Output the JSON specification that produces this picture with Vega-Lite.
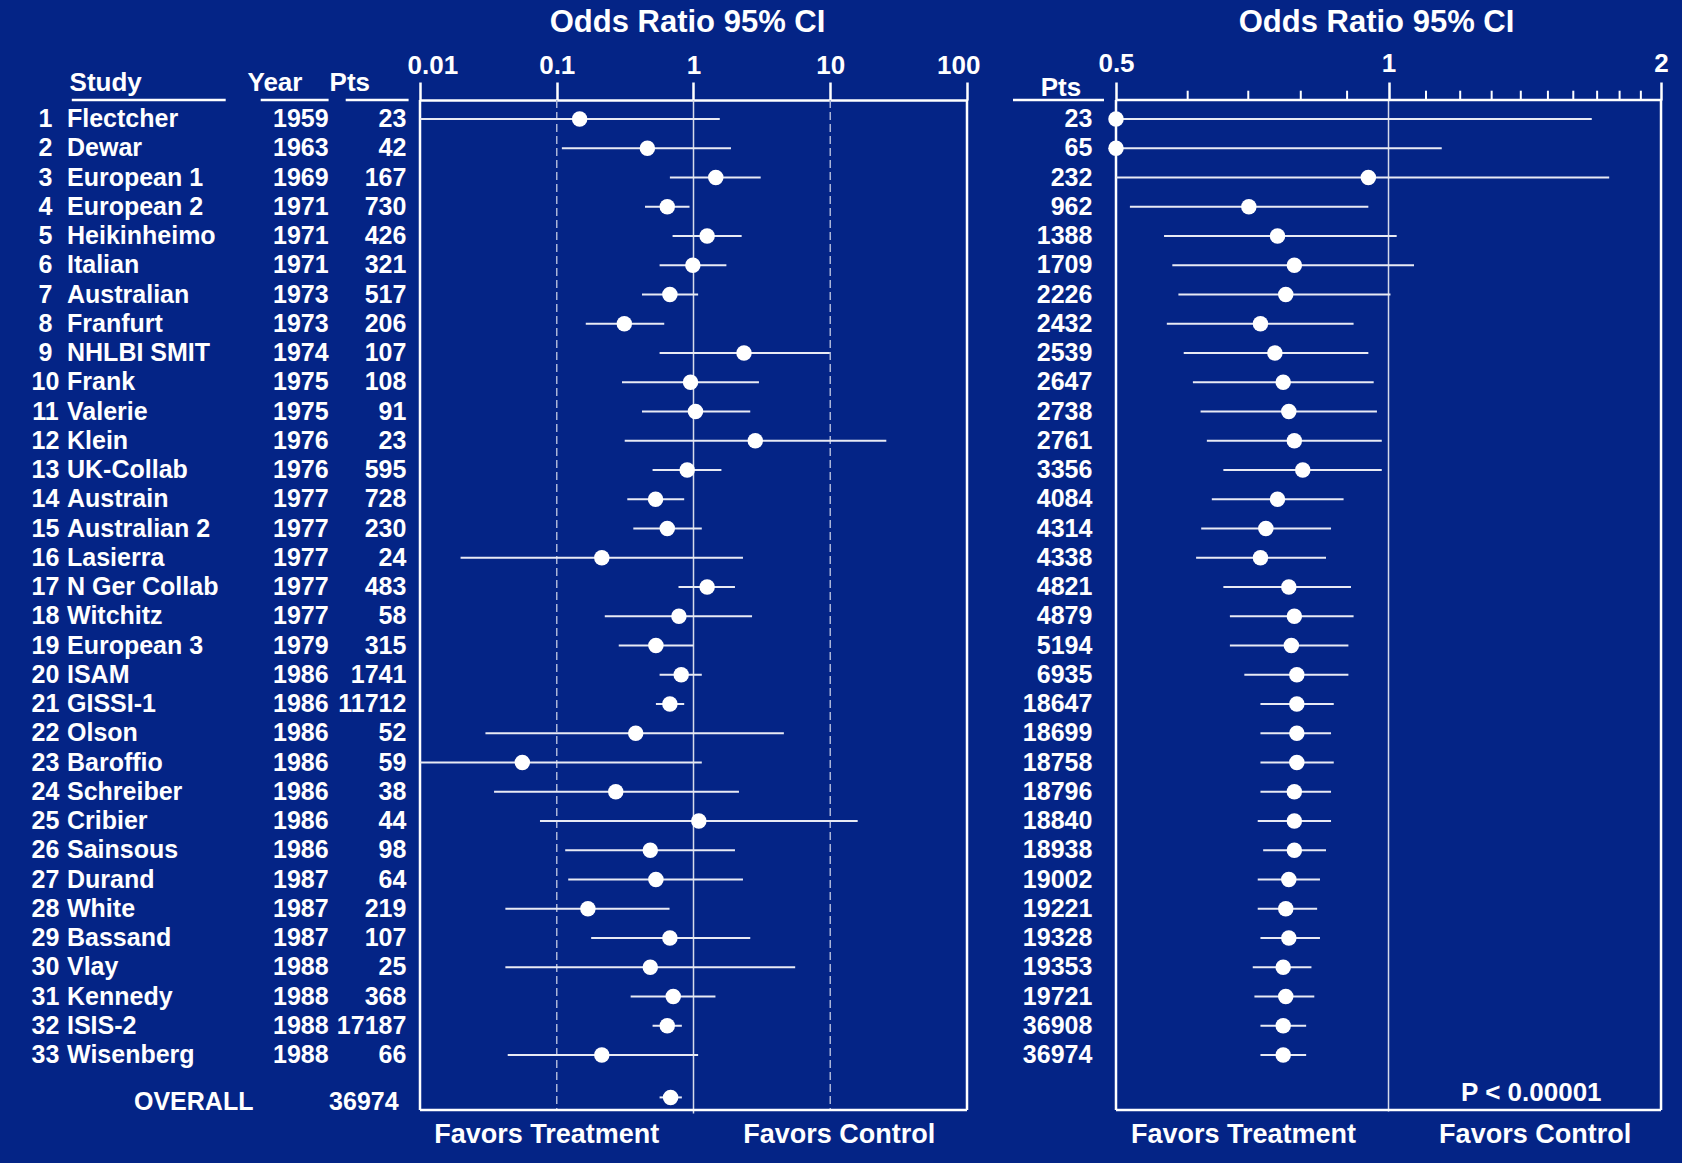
{
"$schema": "https://vega.github.io/schema/vega-lite/v6.json",
"background": "#042486",
"padding": 0,
"spacing": 0,
"bounds": "flush",
"config": {
  "view": {"stroke": null},
  "text": {"color": "white", "font": "Liberation Sans", "fontWeight": "bold", "fontSize": 25},
  "rule": {"color": "white"},
  "point": {"filled": true, "color": "white", "opacity": 1, "size": 240, "shape": "circle"}
},
"datasets": {
  "studies": [
    {"n":1,"study":"Flectcher","year":"1959","pts":"23","or":0.147,"lo":0.01,"hi":1.556,"cumPts":"23","cumOr":0.5,"cumLo":0.5,"cumHi":1.677},
    {"n":2,"study":"Dewar","year":"1963","pts":"42","or":0.46,"lo":0.109,"hi":1.88,"cumPts":"65","cumOr":0.5,"cumLo":0.5,"cumHi":1.145},
    {"n":3,"study":"European 1","year":"1969","pts":"167","or":1.455,"lo":0.672,"hi":3.1,"cumPts":"232","cumOr":0.95,"cumLo":0.5,"cumHi":1.753},
    {"n":4,"study":"European 2","year":"1971","pts":"730","or":0.643,"lo":0.442,"hi":0.935,"cumPts":"962","cumOr":0.701,"cumLo":0.518,"cumHi":0.95},
    {"n":5,"study":"Heikinheimo","year":"1971","pts":"426","or":1.258,"lo":0.703,"hi":2.25,"cumPts":"1388","cumOr":0.754,"cumLo":0.565,"cumHi":1.021},
    {"n":6,"study":"Italian","year":"1971","pts":"321","or":0.989,"lo":0.565,"hi":1.74,"cumPts":"1709","cumOr":0.787,"cumLo":0.577,"cumHi":1.067},
    {"n":7,"study":"Australian","year":"1973","pts":"517","or":0.672,"lo":0.42,"hi":1.081,"cumPts":"2226","cumOr":0.77,"cumLo":0.586,"cumHi":1.005},
    {"n":8,"study":"Franfurt","year":"1973","pts":"206","or":0.312,"lo":0.163,"hi":0.611,"cumPts":"2432","cumOr":0.722,"cumLo":0.569,"cumHi":0.915},
    {"n":9,"study":"NHLBI SMIT","year":"1974","pts":"107","or":2.34,"lo":0.565,"hi":9.92,"cumPts":"2539","cumOr":0.749,"cumLo":0.594,"cumHi":0.95},
    {"n":10,"study":"Frank","year":"1975","pts":"108","or":0.951,"lo":0.3,"hi":3.01,"cumPts":"2647","cumOr":0.765,"cumLo":0.608,"cumHi":0.963},
    {"n":11,"study":"Valerie","year":"1975","pts":"91","or":1.034,"lo":0.42,"hi":2.6,"cumPts":"2738","cumOr":0.776,"cumLo":0.62,"cumHi":0.971},
    {"n":12,"study":"Klein","year":"1976","pts":"23","or":2.83,"lo":0.314,"hi":25.7,"cumPts":"2761","cumOr":0.787,"cumLo":0.63,"cumHi":0.983},
    {"n":13,"study":"UK-Collab","year":"1976","pts":"595","or":0.899,"lo":0.502,"hi":1.6,"cumPts":"3356","cumOr":0.804,"cumLo":0.657,"cumHi":0.983},
    {"n":14,"study":"Austrain","year":"1977","pts":"728","or":0.528,"lo":0.328,"hi":0.855,"cumPts":"4084","cumOr":0.754,"cumLo":0.638,"cumHi":0.892},
    {"n":15,"study":"Australian 2","year":"1977","pts":"230","or":0.643,"lo":0.363,"hi":1.15,"cumPts":"4314","cumOr":0.732,"cumLo":0.621,"cumHi":0.864},
    {"n":16,"study":"Lasierra","year":"1977","pts":"24","or":0.2135,"lo":0.0198,"hi":2.3,"cumPts":"4338","cumOr":0.722,"cumLo":0.613,"cumHi":0.853},
    {"n":17,"study":"N Ger Collab","year":"1977","pts":"483","or":1.258,"lo":0.777,"hi":2.01,"cumPts":"4821","cumOr":0.776,"cumLo":0.657,"cumHi":0.909},
    {"n":18,"study":"Witchitz","year":"1977","pts":"58","or":0.782,"lo":0.2245,"hi":2.68,"cumPts":"4879","cumOr":0.787,"cumLo":0.668,"cumHi":0.915},
    {"n":19,"study":"European 3","year":"1979","pts":"315","or":0.531,"lo":0.284,"hi":1.0,"cumPts":"5194","cumOr":0.781,"cumLo":0.668,"cumHi":0.903},
    {"n":20,"study":"ISAM","year":"1986","pts":"1741","or":0.813,"lo":0.565,"hi":1.15,"cumPts":"6935","cumOr":0.792,"cumLo":0.693,"cumHi":0.903},
    {"n":21,"study":"GISSI-1","year":"1986","pts":"11712","or":0.672,"lo":0.531,"hi":0.855,"cumPts":"18647","cumOr":0.792,"cumLo":0.722,"cumHi":0.87},
    {"n":22,"study":"Olson","year":"1986","pts":"52","or":0.378,"lo":0.0301,"hi":4.58,"cumPts":"18699","cumOr":0.792,"cumLo":0.722,"cumHi":0.864},
    {"n":23,"study":"Baroffio","year":"1986","pts":"59","or":0.056,"lo":0.01,"hi":1.15,"cumPts":"18758","cumOr":0.792,"cumLo":0.722,"cumHi":0.87},
    {"n":24,"study":"Schreiber","year":"1986","pts":"38","or":0.27,"lo":0.0348,"hi":2.15,"cumPts":"18796","cumOr":0.787,"cumLo":0.722,"cumHi":0.864},
    {"n":25,"study":"Cribier","year":"1986","pts":"44","or":1.094,"lo":0.0754,"hi":15.87,"cumPts":"18840","cumOr":0.787,"cumLo":0.717,"cumHi":0.864},
    {"n":26,"study":"Sainsous","year":"1986","pts":"98","or":0.483,"lo":0.1153,"hi":2.01,"cumPts":"18938","cumOr":0.787,"cumLo":0.727,"cumHi":0.853},
    {"n":27,"study":"Durand","year":"1987","pts":"64","or":0.531,"lo":0.1213,"hi":2.3,"cumPts":"19002","cumOr":0.776,"cumLo":0.717,"cumHi":0.84},
    {"n":28,"study":"White","year":"1987","pts":"219","or":0.169,"lo":0.0421,"hi":0.668,"cumPts":"19221","cumOr":0.77,"cumLo":0.717,"cumHi":0.834},
    {"n":29,"study":"Bassand","year":"1987","pts":"107","or":0.672,"lo":0.1785,"hi":2.6,"cumPts":"19328","cumOr":0.776,"cumLo":0.722,"cumHi":0.84},
    {"n":30,"study":"Vlay","year":"1988","pts":"25","or":0.483,"lo":0.0421,"hi":5.54,"cumPts":"19353","cumOr":0.765,"cumLo":0.708,"cumHi":0.822},
    {"n":31,"study":"Kennedy","year":"1988","pts":"368","or":0.711,"lo":0.347,"hi":1.447,"cumPts":"19721","cumOr":0.77,"cumLo":0.711,"cumHi":0.828},
    {"n":32,"study":"ISIS-2","year":"1988","pts":"17187","or":0.643,"lo":0.502,"hi":0.822,"cumPts":"36908","cumOr":0.765,"cumLo":0.722,"cumHi":0.811},
    {"n":33,"study":"Wisenberg","year":"1988","pts":"66","or":0.2135,"lo":0.0438,"hi":1.081,"cumPts":"36974","cumOr":0.765,"cumLo":0.722,"cumHi":0.811}
  ],
  "overall": [{"label": "OVERALL", "pts": "36974", "or": 0.68, "lo": 0.565, "hi": 0.822}],
  "one": [{"k": 1}],
  "refs": [{"v": 0.1}, {"v": 10}],
  "minor": [{"v":0.6},{"v":0.7},{"v":0.8},{"v":0.9},{"v":1.1},{"v":1.2},{"v":1.3},{"v":1.4},{"v":1.5},{"v":1.6},{"v":1.7},{"v":1.8},{"v":1.9}]
},
"hconcat": [
  {
    "width": 420, "height": 1163,
    "layer": [
      {"data": {"name": "studies"}, "mark": {"type": "text", "align": "center", "baseline": "middle"},
       "encoding": {
         "x": {"datum": 45.5, "type": "quantitative", "scale": {"domain": [0, 420], "nice": false, "zero": false}, "axis": null},
         "y": {"field": "n", "type": "quantitative", "scale": {"domain": [-3.0684, 36.6923], "reverse": true, "nice": false, "zero": false}, "axis": null},
         "text": {"field": "n", "type": "nominal"}}},
      {"data": {"name": "studies"}, "mark": {"type": "text", "align": "left", "baseline": "middle"},
       "encoding": {"x": {"datum": 67, "type": "quantitative"}, "y": {"field": "n", "type": "quantitative"}, "text": {"field": "study", "type": "nominal"}}},
      {"data": {"name": "studies"}, "mark": {"type": "text", "align": "right", "baseline": "middle"},
       "encoding": {"x": {"datum": 328.6, "type": "quantitative"}, "y": {"field": "n", "type": "quantitative"}, "text": {"field": "year", "type": "nominal"}}},
      {"data": {"name": "studies"}, "mark": {"type": "text", "align": "right", "baseline": "middle"},
       "encoding": {"x": {"datum": 406.4, "type": "quantitative"}, "y": {"field": "n", "type": "quantitative"}, "text": {"field": "pts", "type": "nominal"}}},
      {"data": {"name": "one"}, "mark": {"type": "text", "align": "left", "baseline": "alphabetic", "fontSize": 26},
       "encoding": {"x": {"datum": 69.6, "type": "quantitative"}, "y": {"datum": 0.032, "type": "quantitative"}, "text": {"value": "Study"}}},
      {"data": {"name": "one"}, "mark": {"type": "text", "align": "left", "baseline": "alphabetic", "fontSize": 26},
       "encoding": {"x": {"datum": 247.5, "type": "quantitative"}, "y": {"datum": 0.032, "type": "quantitative"}, "text": {"value": "Year"}}},
      {"data": {"name": "one"}, "mark": {"type": "text", "align": "left", "baseline": "alphabetic", "fontSize": 26},
       "encoding": {"x": {"datum": 329.6, "type": "quantitative"}, "y": {"datum": 0.032, "type": "quantitative"}, "text": {"value": "Pts"}}},
      {"data": {"name": "one"}, "mark": {"type": "rule", "strokeWidth": 2.5},
       "encoding": {"x": {"datum": 71.8, "type": "quantitative"}, "x2": {"datum": 225.7}, "y": {"datum": 0.3504, "type": "quantitative"}}},
      {"data": {"name": "one"}, "mark": {"type": "rule", "strokeWidth": 2.5},
       "encoding": {"x": {"datum": 260.7, "type": "quantitative"}, "x2": {"datum": 328.6}, "y": {"datum": 0.3504, "type": "quantitative"}}},
      {"data": {"name": "one"}, "mark": {"type": "rule", "strokeWidth": 2.5},
       "encoding": {"x": {"datum": 345.7, "type": "quantitative"}, "x2": {"datum": 408.6}, "y": {"datum": 0.3504, "type": "quantitative"}}},
      {"data": {"name": "overall"}, "mark": {"type": "text", "align": "left", "baseline": "middle", "fontSize": 25},
       "encoding": {"x": {"datum": 134, "type": "quantitative"}, "y": {"datum": 34.6, "type": "quantitative"}, "text": {"field": "label", "type": "nominal"}}},
      {"data": {"name": "overall"}, "mark": {"type": "text", "align": "right", "baseline": "middle", "fontSize": 25},
       "encoding": {"x": {"datum": 398.6, "type": "quantitative"}, "y": {"datum": 34.6, "type": "quantitative"}, "text": {"field": "pts", "type": "nominal"}}}
    ]
  },
  {
    "width": 547, "height": 1163,
    "layer": [
      {"data": {"name": "refs"}, "mark": {"type": "rule", "strokeDash": [8, 4], "strokeWidth": 1.5, "color": "#aab4d8"},
       "encoding": {
         "x": {"field": "v", "type": "quantitative", "scale": {"type": "log", "domain": [0.01, 100], "nice": false},
               "axis": {"orient": "top", "offset": -100, "values": [0.01, 0.1, 1, 10, 100], "format": "~g", "grid": false,
                        "domain": true, "domainColor": "white", "domainWidth": 2.5,
                        "ticks": true, "tickColor": "white", "tickWidth": 2.5, "tickSize": 18,
                        "labelColor": "white", "labelFont": "Liberation Sans", "labelFontWeight": "bold", "labelFontSize": 26,
                        "labelPadding": 3.3, "labelFlush": true, "labelFlushOffset": 13, "labelOverlap": false,
                        "title": "Odds Ratio 95% CI", "titleColor": "white", "titleFont": "Liberation Sans", "titleFontWeight": "bold",
                        "titleFontSize": 31, "titlePadding": 14, "titleX": 267}},
         "y": {"datum": 0.3504, "type": "quantitative", "scale": {"domain": [-3.0684, 36.6923], "reverse": true, "nice": false, "zero": false}, "axis": null},
         "y2": {"datum": 34.88}}},
      {"data": {"name": "one"}, "mark": {"type": "rule", "strokeWidth": 1.5, "color": "#d5daea"},
       "encoding": {"x": {"datum": 1, "type": "quantitative"}, "y": {"datum": 0.3504, "type": "quantitative"}, "y2": {"datum": 35.0}}},
      {"data": {"name": "one"}, "mark": {"type": "rule", "strokeWidth": 2.5},
       "encoding": {"x": {"datum": 0.01, "type": "quantitative"}, "y": {"datum": 0.3504, "type": "quantitative"}, "y2": {"datum": 34.88}}},
      {"data": {"name": "one"}, "mark": {"type": "rule", "strokeWidth": 2.5},
       "encoding": {"x": {"datum": 100, "type": "quantitative"}, "y": {"datum": 0.3504, "type": "quantitative"}, "y2": {"datum": 34.88}}},
      {"data": {"name": "one"}, "mark": {"type": "rule", "strokeWidth": 2.5},
       "encoding": {"x": {"datum": 0.01, "type": "quantitative"}, "x2": {"datum": 100}, "y": {"datum": 34.88, "type": "quantitative"}}},
      {"data": {"name": "studies"}, "mark": {"type": "rule", "strokeWidth": 2, "color": "#e8eaf4"},
       "encoding": {"x": {"field": "lo", "type": "quantitative"}, "x2": {"field": "hi"}, "y": {"field": "n", "type": "quantitative"}}},
      {"data": {"name": "studies"}, "mark": {"type": "point"},
       "encoding": {"x": {"field": "or", "type": "quantitative"}, "y": {"field": "n", "type": "quantitative"}}},
      {"data": {"name": "overall"}, "mark": {"type": "rule", "strokeWidth": 2, "color": "#e8eaf4"},
       "encoding": {"x": {"field": "lo", "type": "quantitative"}, "x2": {"field": "hi"}, "y": {"datum": 34.45, "type": "quantitative"}}},
      {"data": {"name": "overall"}, "mark": {"type": "point"},
       "encoding": {"x": {"field": "or", "type": "quantitative"}, "y": {"datum": 34.45, "type": "quantitative"}}},
      {"data": {"name": "one"}, "mark": {"type": "text", "align": "center", "baseline": "middle", "fontSize": 27},
       "encoding": {"x": {"datum": 0.0845, "type": "quantitative"}, "y": {"datum": 35.74, "type": "quantitative"}, "text": {"value": "Favors Treatment"}}},
      {"data": {"name": "one"}, "mark": {"type": "text", "align": "center", "baseline": "middle", "fontSize": 27},
       "encoding": {"x": {"datum": 11.64, "type": "quantitative"}, "y": {"datum": 35.74, "type": "quantitative"}, "text": {"value": "Favors Control"}}}
    ]
  },
  {
    "width": 149, "height": 1163,
    "layer": [
      {"data": {"name": "studies"}, "mark": {"type": "text", "align": "right", "baseline": "middle"},
       "encoding": {
         "x": {"datum": 125.4, "type": "quantitative", "scale": {"domain": [0, 149], "nice": false, "zero": false}, "axis": null},
         "y": {"field": "n", "type": "quantitative", "scale": {"domain": [-3.0684, 36.6923], "reverse": true, "nice": false, "zero": false}, "axis": null},
         "text": {"field": "cumPts", "type": "nominal"}}},
      {"data": {"name": "one"}, "mark": {"type": "text", "align": "center", "baseline": "alphabetic", "fontSize": 26},
       "encoding": {"x": {"datum": 94, "type": "quantitative"}, "y": {"datum": 0.214, "type": "quantitative"}, "text": {"value": "Pts"}}},
      {"data": {"name": "one"}, "mark": {"type": "rule", "strokeWidth": 2.5},
       "encoding": {"x": {"datum": 46, "type": "quantitative"}, "x2": {"datum": 137}, "y": {"datum": 0.3504, "type": "quantitative"}}}
    ]
  },
  {
    "width": 566, "height": 1163,
    "layer": [
      {"data": {"name": "one"}, "mark": {"type": "rule", "strokeWidth": 1.5, "color": "#d5daea"},
       "encoding": {
         "x": {"datum": 1, "type": "quantitative", "scale": {"type": "log", "domain": [0.5, 2.1096], "nice": false},
               "axis": {"orient": "top", "offset": -100, "values": [0.5, 1, 2], "format": "~g", "grid": false,
                        "domain": false,
                        "ticks": true, "tickColor": "white", "tickWidth": 2.5, "tickSize": 18,
                        "labelColor": "white", "labelFont": "Liberation Sans", "labelFontWeight": "bold", "labelFontSize": 26,
                        "labelPadding": 5.8, "labelFlush": false, "labelOverlap": false,
                        "title": "Odds Ratio 95% CI", "titleColor": "white", "titleFont": "Liberation Sans", "titleFontWeight": "bold",
                        "titleFontSize": 31, "titlePadding": 11.4, "titleX": 260}},
         "y": {"datum": 0.3504, "type": "quantitative", "scale": {"domain": [-3.0684, 36.6923], "reverse": true, "nice": false, "zero": false}, "axis": null},
         "y2": {"datum": 34.93}}},
      {"data": {"name": "minor"}, "mark": {"type": "rule", "strokeWidth": 2},
       "encoding": {"x": {"field": "v", "type": "quantitative"}, "y": {"datum": 0.0325, "type": "quantitative"}, "y2": {"datum": 0.3504}}},
      {"data": {"name": "one"}, "mark": {"type": "rule", "strokeWidth": 2.5},
       "encoding": {"x": {"datum": 0.5, "type": "quantitative"}, "x2": {"datum": 2}, "y": {"datum": 0.3504, "type": "quantitative"}}},
      {"data": {"name": "one"}, "mark": {"type": "rule", "strokeWidth": 2.5},
       "encoding": {"x": {"datum": 0.5, "type": "quantitative"}, "x2": {"datum": 2}, "y": {"datum": 34.88, "type": "quantitative"}}},
      {"data": {"name": "one"}, "mark": {"type": "rule", "strokeWidth": 2.5},
       "encoding": {"x": {"datum": 0.5, "type": "quantitative"}, "y": {"datum": 0.3504, "type": "quantitative"}, "y2": {"datum": 34.88}}},
      {"data": {"name": "one"}, "mark": {"type": "rule", "strokeWidth": 2.5},
       "encoding": {"x": {"datum": 2, "type": "quantitative"}, "y": {"datum": 0.3504, "type": "quantitative"}, "y2": {"datum": 34.88}}},
      {"data": {"name": "studies"}, "mark": {"type": "rule", "strokeWidth": 2, "color": "#e8eaf4"},
       "encoding": {"x": {"field": "cumLo", "type": "quantitative"}, "x2": {"field": "cumHi"}, "y": {"field": "n", "type": "quantitative"}}},
      {"data": {"name": "studies"}, "mark": {"type": "point"},
       "encoding": {"x": {"field": "cumOr", "type": "quantitative"}, "y": {"field": "n", "type": "quantitative"}}},
      {"data": {"name": "one"}, "mark": {"type": "text", "align": "center", "baseline": "middle", "fontSize": 26},
       "encoding": {"x": {"datum": 1.438, "type": "quantitative"}, "y": {"datum": 34.3, "type": "quantitative"}, "text": {"value": "P < 0.00001"}}},
      {"data": {"name": "one"}, "mark": {"type": "text", "align": "center", "baseline": "middle", "fontSize": 27},
       "encoding": {"x": {"datum": 0.6915, "type": "quantitative"}, "y": {"datum": 35.74, "type": "quantitative"}, "text": {"value": "Favors Treatment"}}},
      {"data": {"name": "one"}, "mark": {"type": "text", "align": "center", "baseline": "middle", "fontSize": 27},
       "encoding": {"x": {"datum": 1.452, "type": "quantitative"}, "y": {"datum": 35.74, "type": "quantitative"}, "text": {"value": "Favors Control"}}}
    ]
  }
]
}
